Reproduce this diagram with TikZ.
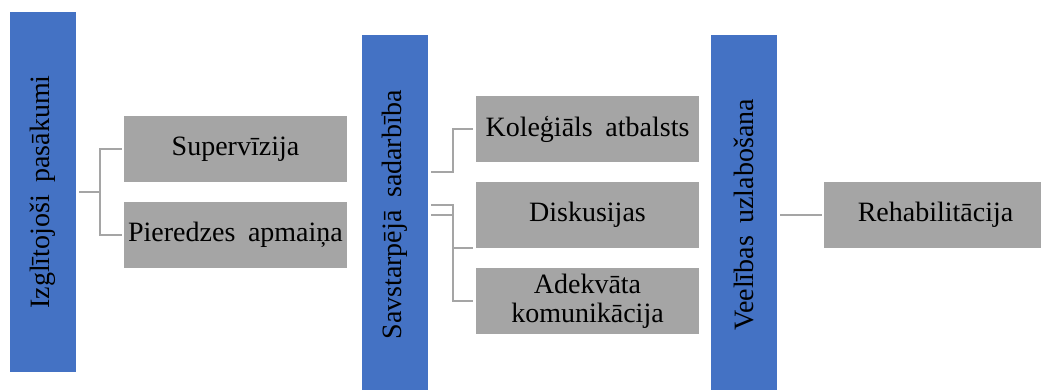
\documentclass[tikz,border=0pt]{standalone}
\usepackage{fontspec}
\setmainfont{Liberation Serif}
\definecolor{barblue}{HTML}{4472C4}
\definecolor{boxgray}{HTML}{A5A5A5}
\usetikzlibrary{positioning}
\newcommand\diagfont{\fontsize{28pt}{29pt}\selectfont\spaceskip=.45em\relax}

\begin{document}
\begin{tikzpicture}[x=1pt, y=-1pt,
                    every node/.style={font=\diagfont},
                    bar/.style={fill=barblue, minimum width=66pt, minimum height=360pt, inner sep=0pt},
                    box/.style={fill=boxgray, minimum width=223pt, minimum height=66pt, inner sep=1pt, align=center},
                    conn/.style={draw=boxgray, line width=2.5pt}]
      \useasboundingbox (0,0) rectangle (1041,390);
      \clip (0,0) rectangle (1041,390);

      % groups
      \node[bar] (edu) at (43,192) {};
      \node[bar] (sad) at (395,215) {};
      \node[bar] (vee) at (744,215) {};
      \node[rotate=90] (eduT) at (edu) {Izglītojoši pasākumi};
      \node[rotate=90] (sadT) at (sad) {Savstarpējā sadarbība};
      \node[rotate=90] (veeT) at (vee) {Veelības uzlabošana};

      % items
      \node[box] (sup) at (235.5,149) {Supervīzija};
      \node[box] (pier) at (235.5,235) {Pieredzes apmaiņa};
      \node[box] (kol) at (587.5,129) {Koleģiāls atbalsts};
      \node[box] (disk) at (587.5,215) {Diskusijas};
      \node[box] (adek) at (587.5,301) {Adekvāta\\komunikācija};
      \node[box] (reh) at (935.5,215) {Rehabilitācija};

      \draw[conn] ([xshift=3pt]edu.east) -- ++(21pt,0) |- ([xshift=-2pt]sup.west);
      \draw[conn] ([xshift=24pt]edu.east) |- ([xshift=-2pt]pier.west);

      \draw[conn] ([xshift=3pt,yshift=43pt]sad.east) -- ++(22pt,0) |- ([xshift=-3pt]kol.west);
      \draw[conn] ([xshift=3pt,yshift=10pt]sad.east) -- ++(22pt,0) |- ([xshift=-3pt]adek.west);
      \draw[conn] ([xshift=3pt]sad.east) -- ++(22pt,0) |- ([xshift=-3pt]disk.south west);

      \draw[conn] ([xshift=3pt]vee.east) -- ([xshift=-2pt]reh.west);
    \end{tikzpicture}
\end{document}
